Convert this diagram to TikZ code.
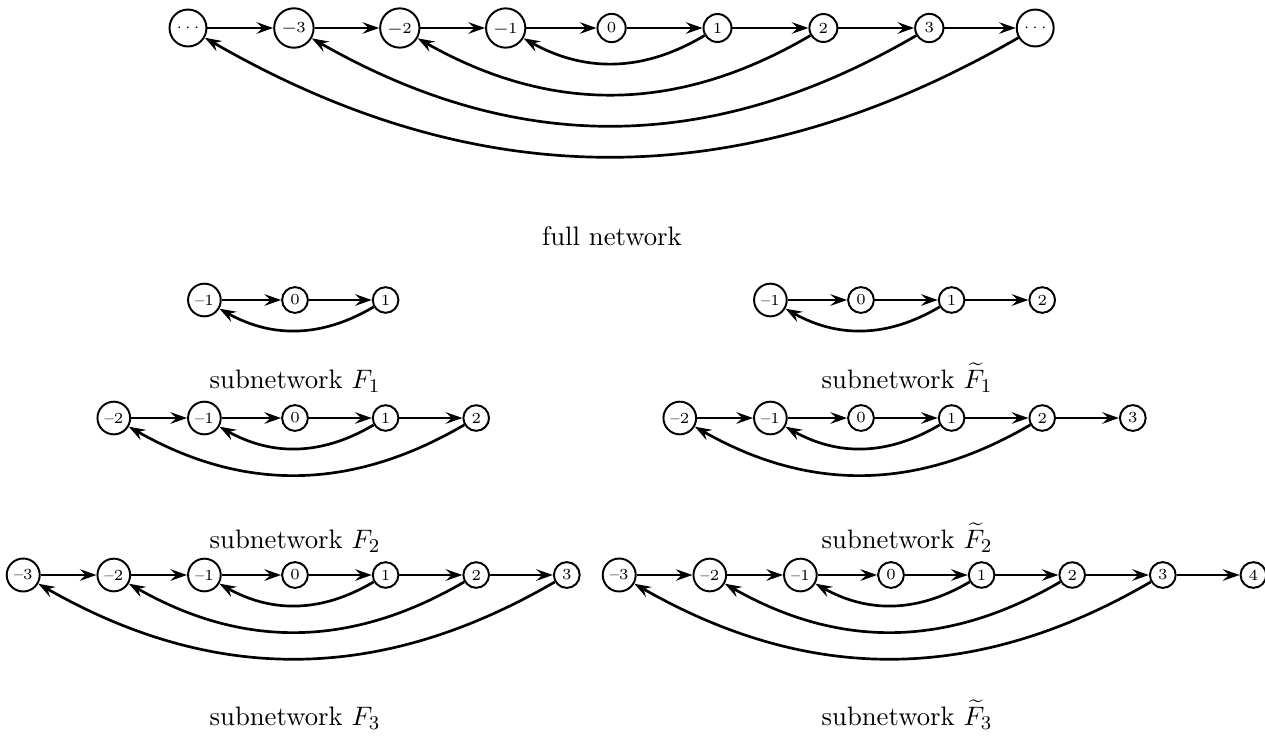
\documentclass[tikz,border=0pt]{standalone}
\usepackage{fontspec}
\usetikzlibrary{arrows.meta}
\newcommand\mylbl[1]{\ifnum#1<0 --\number\numexpr0-#1\relax\else#1\fi}
\newcommand\subrow[6]{%
  \foreach \k in {#4,...,#5} \node[subnode] (#1\k) at ({#2+90.6*\k},-#3) {\mylbl{\k}};
  \pgfmathtruncatemacro\kend{#5-1}
  \foreach \k [evaluate=\k as \j using int(\k+1)] in {#4,...,\kend} \draw[conn] (#1\k) -- (#1\j);
  \foreach \m in {1,...,#6} \draw[backarc] (#1\m) to (#1-\m);
}
\begin{document}
\begin{tikzpicture}[x=0.41pt,y=0.41pt,
  topnode/.style={circle,draw,line width=0.8pt,inner sep=2.05pt,font=\fontsize{6.3}{7}\selectfont},
  subnode/.style={circle,draw,line width=0.8pt,inner sep=1.7pt,font=\fontsize{6.3}{7}\selectfont},
  conn/.style={line width=1.1pt,-{Stealth[length=6.8pt,width=4.7pt,inset=2.4pt]}},
  backarc/.style={conn,bend left=30},
  captxt/.style={anchor=base,font=\fontsize{10.95}{13.6}\selectfont}]
\useasboundingbox (0,0) rectangle (1265,-735);
% full network
\foreach \k/\t in {0/{$\cdots$},1/{−3},2/{−2},3/{−1},4/{0},5/{1},6/{2},7/{3},8/{$\cdots$}}
  \node[topnode] (t\k) at ({188+105.9*\k},-28) {\t};
\foreach \k [evaluate=\k as \j using int(\k+1)] in {0,...,7} \draw[conn] (t\k) -- (t\j);
\draw[backarc] (t5) to (t3);
\draw[backarc] (t6) to (t2);
\draw[backarc] (t7) to (t1);
\draw[backarc] (t8) to (t0);
% subnetworks
\subrow{a}{295}{300}{-1}{1}{1}
\subrow{b}{861}{300}{-1}{2}{1}
\subrow{c}{295}{418}{-2}{2}{2}
\subrow{d}{861}{418}{-2}{3}{2}
\subrow{e}{295}{575}{-3}{3}{3}
\subrow{f}{891}{575}{-3}{4}{3}
% captions
\node[captxt] (c0) at (612,-245) {full network};
\node[captxt] (c1) at (295,-388) {subnetwork $F_1$};
\node[captxt] (c2) at (907,-388) {subnetwork $\widetilde{F}_1$};
\node[captxt] (c3) at (295,-548) {subnetwork $F_2$};
\node[captxt] (c4) at (907,-548) {subnetwork $\widetilde{F}_2$};
\node[captxt] (c5) at (295,-725) {subnetwork $F_3$};
\node[captxt] (c6) at (907,-725) {subnetwork $\widetilde{F}_3$};
\end{tikzpicture}
\end{document}
